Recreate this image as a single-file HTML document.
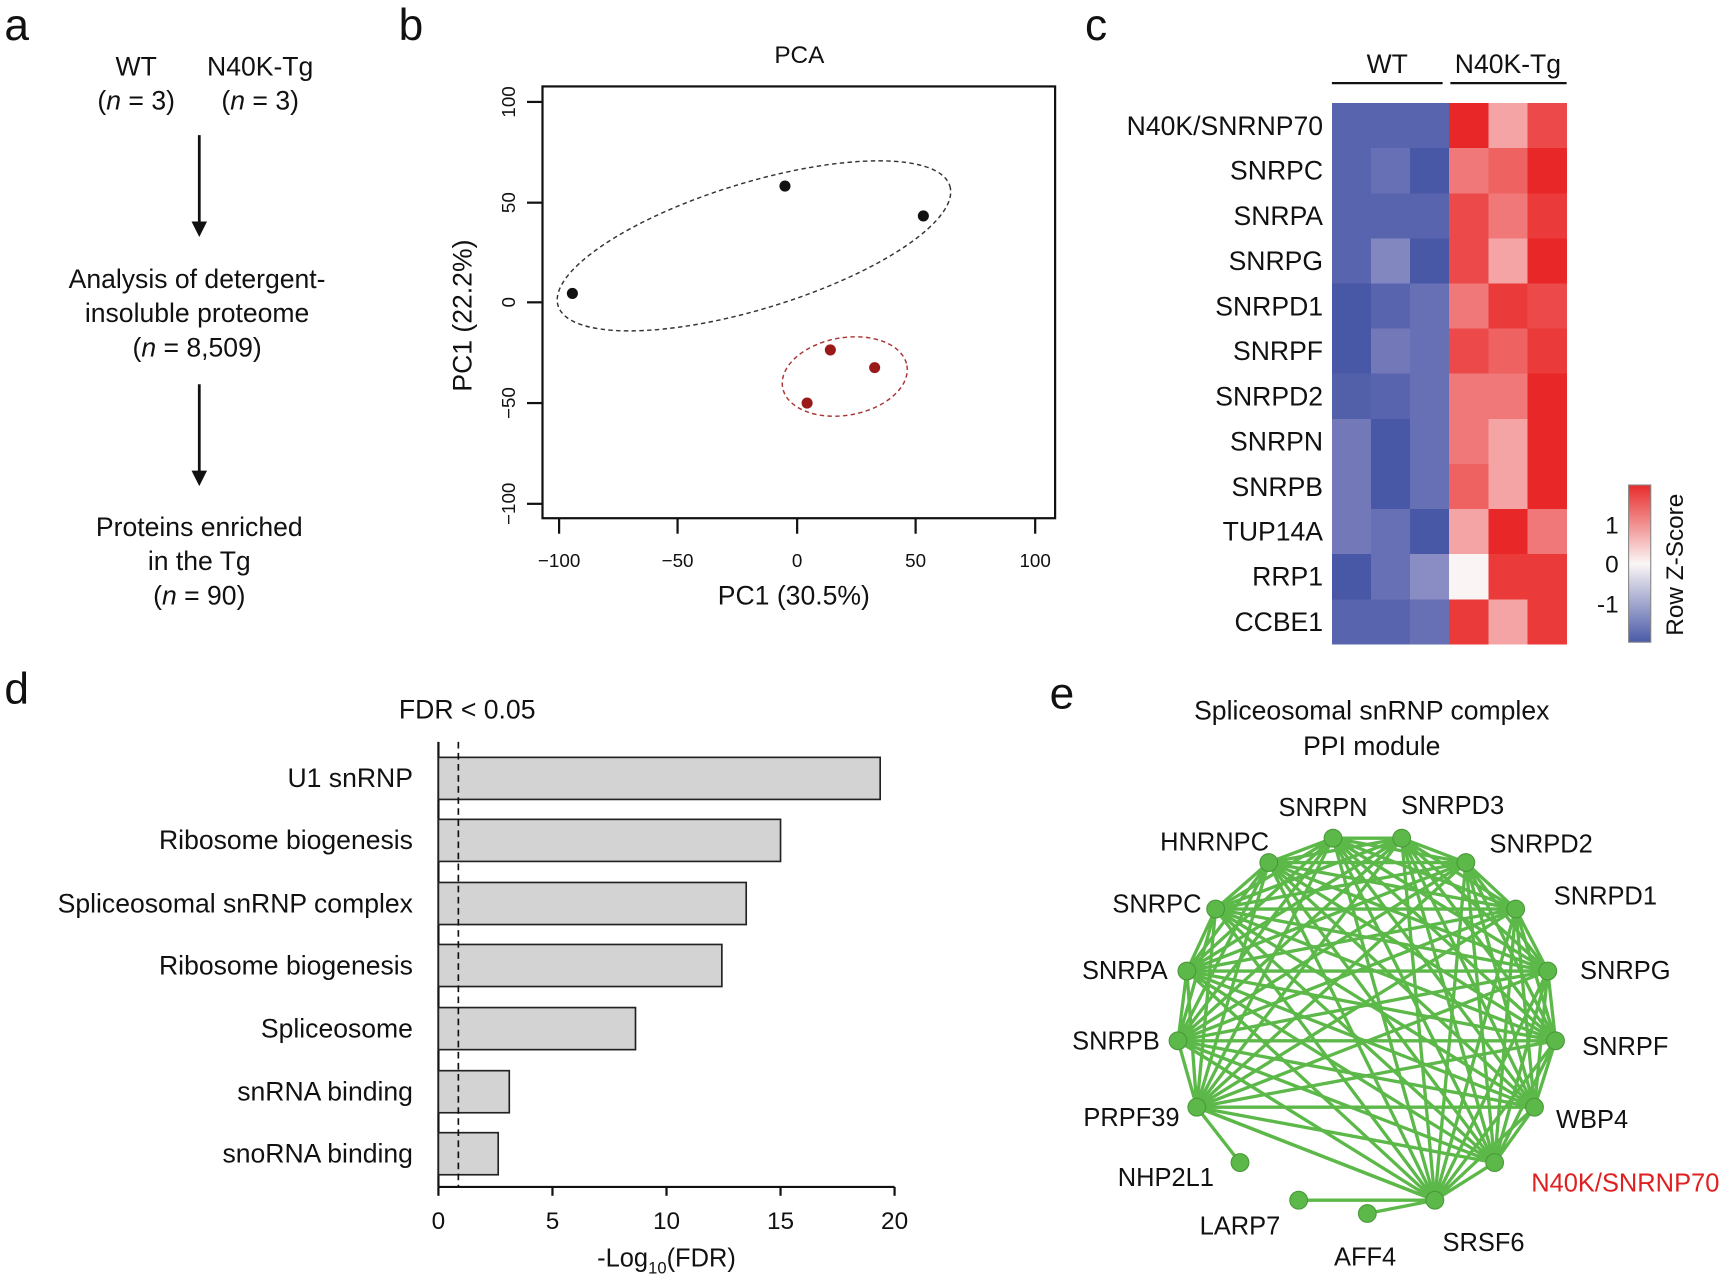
<!DOCTYPE html>
<html><head><meta charset="utf-8"><style>html,body{margin:0;padding:0;background:#fff}svg{display:block}text{font-family:"Liberation Sans",Arial,sans-serif;fill:#111}</style></head><body>
<svg width="1736" height="1280" viewBox="0 0 1568 1156" xmlns="http://www.w3.org/2000/svg">
<defs><linearGradient id="cb" x1="0" y1="1" x2="0" y2="0"><stop offset="0" stop-color="#4a5aa8"/><stop offset="0.5" stop-color="#fbf6f6"/><stop offset="1" stop-color="#e82b2b"/></linearGradient></defs>
<g font-size="40"><text x="4" y="36">a</text><text x="360" y="36">b</text><text x="980" y="36">c</text><text x="4" y="636">d</text><text x="948" y="640">e</text></g>
<!-- a -->
<g font-size="24" text-anchor="middle">
<text x="123" y="68">WT</text><text x="235" y="68">N40K-Tg</text>
<text x="123" y="99">(<tspan font-style="italic">n</tspan> = 3)</text><text x="235" y="99">(<tspan font-style="italic">n</tspan> = 3)</text>
<text x="178" y="260">Analysis of detergent-</text><text x="178" y="291">insoluble proteome</text><text x="178" y="322">(<tspan font-style="italic">n</tspan> = 8,509)</text>
<text x="180" y="484">Proteins enriched</text><text x="180" y="515">in the Tg</text><text x="180" y="546">(<tspan font-style="italic">n</tspan> = 90)</text>
</g>
<g stroke="#111" stroke-width="2.5"><line x1="180" y1="122" x2="180" y2="205"/><line x1="180" y1="347" x2="180" y2="430"/></g>
<polygon points="173,200 187,200 180,214" fill="#111"/><polygon points="173,425 187,425 180,439" fill="#111"/>
<!-- b -->
<text x="722" y="57" font-size="22" text-anchor="middle">PCA</text>
<rect x="490" y="78" width="463" height="390" fill="none" stroke="#111" stroke-width="2"/>
<g stroke="#111" stroke-width="2">
<line x1="505" y1="468" x2="505" y2="482"/><line x1="612" y1="468" x2="612" y2="482"/><line x1="720" y1="468" x2="720" y2="482"/><line x1="827" y1="468" x2="827" y2="482"/><line x1="935" y1="468" x2="935" y2="482"/>
<line x1="476" y1="92" x2="490" y2="92"/><line x1="476" y1="183" x2="490" y2="183"/><line x1="476" y1="273" x2="490" y2="273"/><line x1="476" y1="364" x2="490" y2="364"/><line x1="476" y1="455" x2="490" y2="455"/>
</g>
<g font-size="17" text-anchor="middle"><text x="505" y="512">−100</text><text x="612" y="512">−50</text><text x="720" y="512">0</text><text x="827" y="512">50</text><text x="935" y="512">100</text></g>
<g font-size="17" text-anchor="middle">
<text transform="translate(465,92) rotate(-90)">100</text><text transform="translate(465,183) rotate(-90)">50</text><text transform="translate(465,273) rotate(-90)">0</text><text transform="translate(465,364) rotate(-90)">−50</text><text transform="translate(465,455) rotate(-90)">−100</text></g>
<text transform="translate(426,285) rotate(-90)" font-size="24" text-anchor="middle">PC1 (22.2%)</text>
<text x="717" y="546" font-size="24" text-anchor="middle">PC1 (30.5%)</text>
<ellipse cx="681" cy="222" rx="185" ry="57" transform="rotate(-17 681 222)" fill="none" stroke="#333" stroke-width="1.3" stroke-dasharray="4,3"/>
<ellipse cx="763" cy="340" rx="57" ry="35" transform="rotate(-10 763 340)" fill="none" stroke="#a33" stroke-width="1.3" stroke-dasharray="4,3"/>
<g fill="#111"><circle cx="517" cy="265" r="5"/><circle cx="709" cy="168" r="5"/><circle cx="834" cy="195" r="5"/></g>
<g fill="#9a1a1a"><circle cx="750" cy="316" r="5"/><circle cx="790" cy="332" r="5"/><circle cx="729" cy="364" r="5"/></g>
<!-- c -->
<g font-size="24" text-anchor="middle"><text x="1253" y="66">WT</text><text x="1362" y="66">N40K-Tg</text></g>
<g stroke="#111" stroke-width="2"><line x1="1203" y1="75" x2="1303" y2="75"/><line x1="1310" y1="75" x2="1415" y2="75"/></g>
<g shape-rendering="crispEdges">
<rect x="1203" y="93" width="36" height="41.5" fill="#5864ae"/><rect x="1238.3" y="93" width="36" height="41.5" fill="#5864ae"/><rect x="1273.7" y="93" width="36" height="41.5" fill="#5864ae"/><rect x="1309" y="93" width="36" height="41.5" fill="#e82828"/><rect x="1344.3" y="93" width="36" height="41.5" fill="#f4a4a4"/><rect x="1379.7" y="93" width="35.5" height="41.5" fill="#ec4a4a"/>
<rect x="1203" y="133.75" width="36" height="41.5" fill="#5864ae"/><rect x="1238.3" y="133.75" width="36" height="41.5" fill="#6770b4"/><rect x="1273.7" y="133.75" width="36" height="41.5" fill="#4858a6"/><rect x="1309" y="133.75" width="36" height="41.5" fill="#f07878"/><rect x="1344.3" y="133.75" width="36" height="41.5" fill="#ee6262"/><rect x="1379.7" y="133.75" width="35.5" height="41.5" fill="#e82828"/>
<rect x="1203" y="174.5" width="36" height="41.5" fill="#5864ae"/><rect x="1238.3" y="174.5" width="36" height="41.5" fill="#5864ae"/><rect x="1273.7" y="174.5" width="36" height="41.5" fill="#5864ae"/><rect x="1309" y="174.5" width="36" height="41.5" fill="#ec4a4a"/><rect x="1344.3" y="174.5" width="36" height="41.5" fill="#f07878"/><rect x="1379.7" y="174.5" width="35.5" height="41.5" fill="#ea3a3a"/>
<rect x="1203" y="215.25" width="36" height="41.5" fill="#5864ae"/><rect x="1238.3" y="215.25" width="36" height="41.5" fill="#8387c0"/><rect x="1273.7" y="215.25" width="36" height="41.5" fill="#4858a6"/><rect x="1309" y="215.25" width="36" height="41.5" fill="#ec4a4a"/><rect x="1344.3" y="215.25" width="36" height="41.5" fill="#f4a4a4"/><rect x="1379.7" y="215.25" width="35.5" height="41.5" fill="#e82828"/>
<rect x="1203" y="256" width="36" height="41.5" fill="#4858a6"/><rect x="1238.3" y="256" width="36" height="41.5" fill="#5864ae"/><rect x="1273.7" y="256" width="36" height="41.5" fill="#6770b4"/><rect x="1309" y="256" width="36" height="41.5" fill="#f07878"/><rect x="1344.3" y="256" width="36" height="41.5" fill="#ea3a3a"/><rect x="1379.7" y="256" width="35.5" height="41.5" fill="#ec4a4a"/>
<rect x="1203" y="296.75" width="36" height="41.5" fill="#4858a6"/><rect x="1238.3" y="296.75" width="36" height="41.5" fill="#7378b8"/><rect x="1273.7" y="296.75" width="36" height="41.5" fill="#6770b4"/><rect x="1309" y="296.75" width="36" height="41.5" fill="#ec4a4a"/><rect x="1344.3" y="296.75" width="36" height="41.5" fill="#ee6262"/><rect x="1379.7" y="296.75" width="35.5" height="41.5" fill="#ea3a3a"/>
<rect x="1203" y="337.5" width="36" height="41.5" fill="#5260aa"/><rect x="1238.3" y="337.5" width="36" height="41.5" fill="#5864ae"/><rect x="1273.7" y="337.5" width="36" height="41.5" fill="#6770b4"/><rect x="1309" y="337.5" width="36" height="41.5" fill="#f07878"/><rect x="1344.3" y="337.5" width="36" height="41.5" fill="#f07878"/><rect x="1379.7" y="337.5" width="35.5" height="41.5" fill="#e82828"/>
<rect x="1203" y="378.25" width="36" height="41.5" fill="#7378b8"/><rect x="1238.3" y="378.25" width="36" height="41.5" fill="#4858a6"/><rect x="1273.7" y="378.25" width="36" height="41.5" fill="#6770b4"/><rect x="1309" y="378.25" width="36" height="41.5" fill="#f07878"/><rect x="1344.3" y="378.25" width="36" height="41.5" fill="#f4a4a4"/><rect x="1379.7" y="378.25" width="35.5" height="41.5" fill="#e82828"/>
<rect x="1203" y="419" width="36" height="41.5" fill="#7378b8"/><rect x="1238.3" y="419" width="36" height="41.5" fill="#4858a6"/><rect x="1273.7" y="419" width="36" height="41.5" fill="#6770b4"/><rect x="1309" y="419" width="36" height="41.5" fill="#ee6262"/><rect x="1344.3" y="419" width="36" height="41.5" fill="#f4a4a4"/><rect x="1379.7" y="419" width="35.5" height="41.5" fill="#e82828"/>
<rect x="1203" y="459.75" width="36" height="41.5" fill="#7378b8"/><rect x="1238.3" y="459.75" width="36" height="41.5" fill="#6770b4"/><rect x="1273.7" y="459.75" width="36" height="41.5" fill="#4858a6"/><rect x="1309" y="459.75" width="36" height="41.5" fill="#f4a4a4"/><rect x="1344.3" y="459.75" width="36" height="41.5" fill="#e82828"/><rect x="1379.7" y="459.75" width="35.5" height="41.5" fill="#f07878"/>
<rect x="1203" y="500.5" width="36" height="41.5" fill="#4858a6"/><rect x="1238.3" y="500.5" width="36" height="41.5" fill="#6770b4"/><rect x="1273.7" y="500.5" width="36" height="41.5" fill="#8a8dc4"/><rect x="1309" y="500.5" width="36" height="41.5" fill="#fbf4f4"/><rect x="1344.3" y="500.5" width="36" height="41.5" fill="#ea3a3a"/><rect x="1379.7" y="500.5" width="35.5" height="41.5" fill="#ea3a3a"/>
<rect x="1203" y="541.25" width="36" height="41" fill="#5864ae"/><rect x="1238.3" y="541.25" width="36" height="41" fill="#5864ae"/><rect x="1273.7" y="541.25" width="36" height="41" fill="#6770b4"/><rect x="1309" y="541.25" width="36" height="41" fill="#ea3a3a"/><rect x="1344.3" y="541.25" width="36" height="41" fill="#f4a4a4"/><rect x="1379.7" y="541.25" width="35.5" height="41" fill="#ea3a3a"/>
</g>
<g font-size="24" text-anchor="end">
<text x="1195" y="122">N40K/SNRNP70</text><text x="1195" y="162">SNRPC</text><text x="1195" y="203">SNRPA</text><text x="1195" y="244">SNRPG</text><text x="1195" y="285">SNRPD1</text><text x="1195" y="325">SNRPF</text><text x="1195" y="366">SNRPD2</text><text x="1195" y="407">SNRPN</text><text x="1195" y="448">SNRPB</text><text x="1195" y="488">TUP14A</text><text x="1195" y="529">RRP1</text><text x="1195" y="570">CCBE1</text>
</g>
<rect x="1471" y="438" width="20" height="142" fill="url(#cb)" stroke="#888" stroke-width="1"/>
<g font-size="22" text-anchor="end"><text x="1462" y="482">1</text><text x="1462" y="517">0</text><text x="1462" y="553">-1</text></g>
<text transform="translate(1520,510) rotate(-90)" font-size="22" text-anchor="middle">Row Z-Score</text>
<!-- d -->
<text x="422" y="649" font-size="24" text-anchor="middle">FDR &lt; 0.05</text>
<g stroke="#111" stroke-width="2" fill="none">
<line x1="396" y1="670" x2="396" y2="1072"/><line x1="396" y1="1072" x2="808" y2="1072"/>
<line x1="396" y1="1072" x2="396" y2="1080"/><line x1="499" y1="1072" x2="499" y2="1080"/><line x1="602" y1="1072" x2="602" y2="1080"/><line x1="705" y1="1072" x2="705" y2="1080"/><line x1="808" y1="1072" x2="808" y2="1080"/>
</g>
<g font-size="22" text-anchor="middle"><text x="396" y="1110">0</text><text x="499" y="1110">5</text><text x="602" y="1110">10</text><text x="705" y="1110">15</text><text x="808" y="1110">20</text></g>
<text x="602" y="1144" font-size="23" text-anchor="middle">-Log<tspan font-size="15" dy="6">10</tspan><tspan dy="-6">(FDR)</tspan></text>
<g fill="#d3d3d3" stroke="#222" stroke-width="1.5">
<rect x="396" y="684" width="399" height="38"/><rect x="396" y="740" width="309" height="38"/><rect x="396" y="797" width="278" height="38"/><rect x="396" y="853" width="256" height="38"/><rect x="396" y="910" width="178" height="38"/><rect x="396" y="967" width="64" height="38"/><rect x="396" y="1023" width="54" height="38"/>
</g>
<line x1="414" y1="670" x2="414" y2="1072" stroke="#111" stroke-width="1.5" stroke-dasharray="6,4"/>
<g font-size="24" text-anchor="end"><text x="373" y="711">U1 snRNP</text><text x="373" y="767">Ribosome biogenesis</text><text x="373" y="824">Spliceosomal snRNP complex</text><text x="373" y="880">Ribosome biogenesis</text><text x="373" y="937">Spliceosome</text><text x="373" y="994">snRNA binding</text><text x="373" y="1050">snoRNA binding</text></g>
<!-- e -->
<g font-size="24" text-anchor="middle"><text x="1239" y="650">Spliceosomal snRNP complex</text><text x="1239" y="682">PPI module</text></g>
<g stroke="#5cb848" stroke-width="3" fill="none" stroke-linejoin="round">
<path d="M1204 757 L1266 757 L1204 757 L1324 779 L1204 757 L1369 821 L1204 757 L1398 877 L1204 757 L1405 940 L1204 757 L1386 1000 L1204 757 L1350 1050 L1204 757 L1296 1084 L1204 757 L1081 1000 L1204 757 L1064 940 L1204 757 L1072 877 L1204 757 L1098 821 L1204 757 L1146 779"/>
<path d="M1266 757 L1324 779 L1266 757 L1369 821 L1266 757 L1398 877 L1266 757 L1405 940 L1266 757 L1386 1000 L1266 757 L1350 1050 L1266 757 L1296 1084 L1266 757 L1081 1000 L1266 757 L1064 940 L1266 757 L1072 877 L1266 757 L1098 821 L1266 757 L1146 779"/>
<path d="M1324 779 L1369 821 L1324 779 L1398 877 L1324 779 L1405 940 L1324 779 L1386 1000 L1324 779 L1350 1050 L1324 779 L1296 1084 L1324 779 L1081 1000 L1324 779 L1064 940 L1324 779 L1072 877 L1324 779 L1098 821 L1324 779 L1146 779"/>
<path d="M1369 821 L1398 877 L1369 821 L1405 940 L1369 821 L1386 1000 L1369 821 L1350 1050 L1369 821 L1296 1084 L1369 821 L1081 1000 L1369 821 L1064 940 L1369 821 L1072 877 L1369 821 L1098 821 L1369 821 L1146 779"/>
<path d="M1398 877 L1405 940 L1398 877 L1386 1000 L1398 877 L1350 1050 L1398 877 L1296 1084 L1398 877 L1081 1000 L1398 877 L1064 940 L1398 877 L1072 877 L1398 877 L1098 821 L1398 877 L1146 779"/>
<path d="M1405 940 L1386 1000 L1405 940 L1350 1050 L1405 940 L1296 1084 L1405 940 L1081 1000 L1405 940 L1064 940 L1405 940 L1072 877 L1405 940 L1098 821 L1405 940 L1146 779"/>
<path d="M1386 1000 L1350 1050 L1386 1000 L1296 1084 L1386 1000 L1081 1000 L1386 1000 L1064 940 L1386 1000 L1072 877 L1386 1000 L1098 821 L1386 1000 L1146 779"/>
<path d="M1350 1050 L1296 1084 L1350 1050 L1081 1000 L1350 1050 L1064 940 L1350 1050 L1072 877 L1350 1050 L1098 821 L1350 1050 L1146 779"/>
<path d="M1296 1084 L1081 1000 L1296 1084 L1064 940 L1296 1084 L1072 877 L1296 1084 L1098 821 L1296 1084 L1146 779"/>
<path d="M1081 1000 L1064 940 L1081 1000 L1072 877 L1081 1000 L1098 821 L1081 1000 L1146 779"/>
<path d="M1064 940 L1072 877 L1064 940 L1098 821 L1064 940 L1146 779"/>
<path d="M1072 877 L1098 821 L1072 877 L1146 779 M1098 821 L1146 779"/>
<path d="M1120 1050 L1081 1000 M1173 1084 L1296 1084 M1235 1096 L1296 1084 M1081 1000 L1296 1084"/>
</g>
<g fill="#5cb848" stroke="#4a9a3a" stroke-width="1">
<circle cx="1204" cy="757" r="8"/><circle cx="1266" cy="757" r="8"/><circle cx="1324" cy="779" r="8"/><circle cx="1369" cy="821" r="8"/><circle cx="1398" cy="877" r="8"/><circle cx="1405" cy="940" r="8"/><circle cx="1386" cy="1000" r="8"/><circle cx="1350" cy="1050" r="8"/><circle cx="1296" cy="1084" r="8"/><circle cx="1081" cy="1000" r="8"/><circle cx="1064" cy="940" r="8"/><circle cx="1072" cy="877" r="8"/><circle cx="1098" cy="821" r="8"/><circle cx="1146" cy="779" r="8"/><circle cx="1120" cy="1050" r="8"/><circle cx="1173" cy="1084" r="8"/><circle cx="1235" cy="1096" r="8"/>
</g>
<g font-size="23" text-anchor="middle">
<text x="1195" y="737">SNRPN</text><text x="1312" y="735">SNRPD3</text><text x="1392" y="770">SNRPD2</text><text x="1097" y="768">HNRNPC</text><text x="1450" y="817">SNRPD1</text><text x="1045" y="824">SNRPC</text><text x="1468" y="884">SNRPG</text><text x="1016" y="884">SNRPA</text><text x="1468" y="953">SNRPF</text><text x="1008" y="948">SNRPB</text><text x="1438" y="1019">WBP4</text><text x="1022" y="1017">PRPF39</text><text x="1468" y="1076" style="fill:#e02020">N40K/SNRNP70</text><text x="1053" y="1071">NHP2L1</text><text x="1120" y="1115">LARP7</text><text x="1340" y="1130">SRSF6</text><text x="1233" y="1143">AFF4</text>
</g>
</svg>
</body></html>
